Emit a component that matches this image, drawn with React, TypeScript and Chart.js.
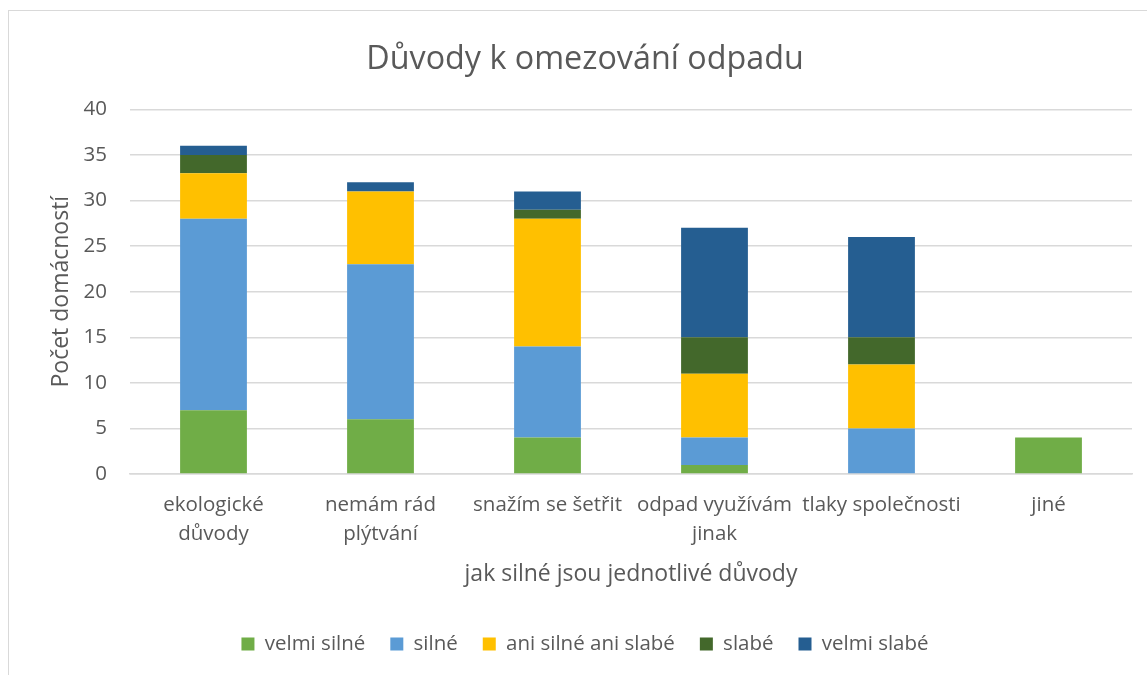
import React, { useEffect, useRef } from "react";
import { Chart, registerables } from "chart.js";

Chart.register(...registerables);

const categories: (string | string[])[] = [
  ["ekologické", "důvody"],
  ["nemám rád", "plýtvání"],
  "snažím se šetřit",
  ["odpad využívám", "jinak"],
  "tlaky společnosti",
  "jiné",
];

const velmiSilne = [7, 6, 4, 1, 0, 4];
const silne = [21, 17, 10, 3, 5, 0];
const aniSilneAniSlabe = [5, 8, 14, 7, 7, 0];
const slabe = [2, 0, 1, 4, 3, 0];
const velmiSlabe = [1, 1, 2, 12, 11, 0];

const seriesNames = ["velmi silné", "silné", "ani silné ani slabé", "slabé", "velmi slabé"];
const seriesColors = ["#70AD47", "#5B9BD5", "#FFC000", "#43682B", "#255E91"];

const titleText = "Důvody k omezování odpadu";
const yTitle = "Počet domácností";
const xTitle = "jak silné jsou jednotlivé důvody";

const FONT = "'Open Sans', sans-serif";
const TEXT = "#595959";
const GRID = "#D9D9D9";

export default function App() {
  const ref = useRef<HTMLCanvasElement>(null);
  useEffect(() => {
    if (!ref.current) return;
    const values = [velmiSilne, silne, aniSilneAniSlabe, slabe, velmiSlabe];
    const chart = new Chart(ref.current, {
      type: "bar",
      data: {
        labels: categories,
        datasets: values.map((v, i) => ({
          label: seriesNames[i],
          data: v,
          backgroundColor: seriesColors[i],
          borderWidth: 0,
          barPercentage: 0.4,
          categoryPercentage: 1,
          yAxisID: "y",
        })),
      },
      options: {
        animation: false,
        responsive: false,
        maintainAspectRatio: false,
        layout: { padding: { top: 10, bottom: 10.75, left: 0, right: 10 } },
        plugins: {
          title: {
            display: true,
            text: titleText,
            color: TEXT,
            font: { family: FONT, size: 32.3, weight: "normal", lineHeight: 1.2 },
            padding: { top: 30, bottom: 30.6 },
          },
          legend: {
            position: "bottom",
            labels: {
              color: TEXT,
              font: { family: FONT, size: 20.5 },
              boxWidth: 13,
              boxHeight: 13,
              padding: 25,
            },
          },
          tooltip: { enabled: false },
        },
        scales: {
          x: {
            stacked: true,
            grid: { display: false, drawTicks: false },
            border: { color: GRID, width: 1.5 },
            ticks: {
              color: TEXT,
              font: { family: FONT, size: 20.5, lineHeight: 1.4 },
              maxRotation: 0,
              autoSkip: false,
              padding: 17,
            },
            title: {
              display: true,
              text: xTitle,
              color: TEXT,
              font: { family: FONT, size: 23, lineHeight: 1.2 },
              padding: { top: 0, bottom: 20.5 },
            },
            afterFit: (s: any) => {
              s.height = 134.75;
            },
          },
          y: {
            stacked: true,
            min: 0,
            max: 40,
            ticks: {
              stepSize: 5,
              color: TEXT,
              font: { family: FONT, size: 20.5 },
              padding: 23,
            },
            grid: { color: GRID, lineWidth: 1.5, drawTicks: false },
            border: { display: false },
            title: {
              display: true,
              text: yTitle,
              color: TEXT,
              font: { family: FONT, size: 23, lineHeight: 1.2 },
              padding: { top: 48, bottom: 0 },
            },
            afterFit: (s: any) => {
              s.width = 130;
            },
          },
          ySpacer: {
            type: "linear",
            position: "right",
            display: true,
            ticks: { display: false },
            grid: { display: false, drawTicks: false },
            border: { display: false },
            afterFit: (s: any) => {
              s.width = 38;
            },
          },
        },
      },
    });
    return () => chart.destroy();
  }, []);

  return (
    <div style={{ position: "fixed", left: 0, top: 0, width: 1147, height: 675, overflow: "hidden", background: "#fff" }}>
      <div
        style={{
          position: "absolute",
          left: 8,
          top: 10,
          width: 1200,
          height: 700,
          border: "1.5px solid #D9D9D9",
          boxSizing: "border-box",
        }}
      />
      <canvas ref={ref} width={1180} height={675} style={{ position: "absolute", left: 0, top: 0 }} />
    </div>
  );
}
